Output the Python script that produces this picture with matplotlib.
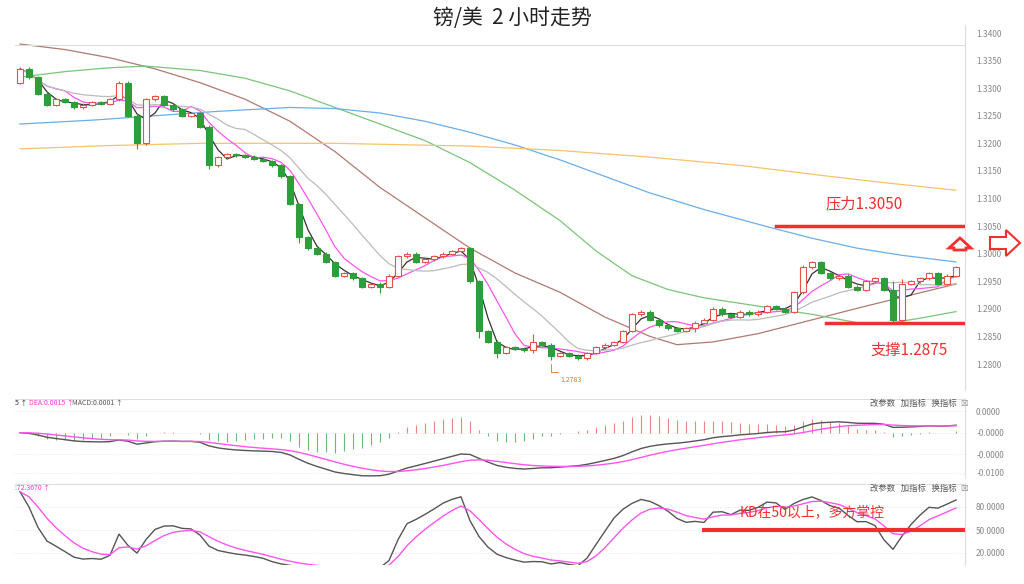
import matplotlib
matplotlib.use("Agg")
import matplotlib.pyplot as plt
import numpy as np
import pandas as pd
from matplotlib.patches import FancyArrow

plt.rcParams['font.family'] = ['Noto Sans CJK SC', 'DejaVu Sans']

closes = [1.3335,1.3320,1.3290,1.3270,1.3280,1.3275,1.3265,1.3270,1.3275,1.3272,
          1.3280,1.3310,1.3250,1.3200,1.3280,1.3285,1.3270,1.3262,1.3250,1.3255,
          1.3230,1.3160,1.3175,1.3180,1.3178,1.3176,1.3172,1.3168,1.3160,1.3140,
          1.3090,1.3030,1.3010,1.3000,1.2985,1.2960,1.2965,1.2955,1.2940,1.2945,
          1.2940,1.2960,1.2995,1.3000,1.2985,1.2990,1.2995,1.3000,1.3005,1.3010,
          1.2950,1.2860,1.2840,1.2820,1.2830,1.2828,1.2825,1.2840,1.2835,1.2815,
          1.2820,1.2815,1.2810,1.2820,1.2830,1.2835,1.2840,1.2860,1.2890,1.2895,
          1.2880,1.2870,1.2865,1.2860,1.2865,1.2875,1.2880,1.2900,1.2890,1.2885,
          1.2895,1.2890,1.2895,1.2905,1.2900,1.2895,1.2930,1.2975,1.2985,1.2965,
          1.2955,1.2960,1.2940,1.2935,1.2950,1.2955,1.2935,1.2880,1.2945,1.2950,
          1.2955,1.2965,1.2945,1.2960,1.2975]
first_open = 1.3310
long_wicks = {13: (8, 20), 21: (6, 14), 31: (5, 20), 40: (6, 22), 51: (6, 25),
              53: (6, 18), 57: (30, 10), 59: (6, 15), 75: (6, 14), 87: (10, 6),
              97: (30, 8), 98: (18, 6)}
brown_pts = [(0,1.3380),(5,1.3370),(10,1.3355),(15,1.3335),(20,1.3310),(25,1.3280),(30,1.3240),
             (35,1.3185),(40,1.3120),(45,1.3065),(50,1.3010),(55,1.2965),(60,1.2930),(65,1.2885),
             (70,1.2850),(73,1.2835),(77,1.2840),(82,1.2855),(88,1.2880),(94,1.2905),(99,1.2925),(104,1.2945)]
green_pts = [(0,1.3320),(5,1.3330),(10,1.3337),(14,1.3340),(20,1.3332),(25,1.3318),(30,1.3295),
             (35,1.3265),(40,1.3235),(45,1.3205),(50,1.3165),(55,1.3115),(60,1.3060),(64,1.3005),
             (68,1.2960),(72,1.2935),(76,1.2920),(82,1.2905),(88,1.2890),(93,1.2875),(97,1.2875),
             (100,1.2883),(104,1.2895)]
blue_pts = [(0,1.3235),(8,1.3242),(15,1.3250),(22,1.3258),(30,1.3265),(35,1.3263),(40,1.3255),
            (45,1.3240),(50,1.3220),(55,1.3197),(60,1.3170),(65,1.3140),(70,1.3110),(76,1.3080),
            (83,1.3049),(88,1.3028),(93,1.3010),(98,1.2997),(104,1.2985)]
orange_pts = [(0,1.3190),(10,1.3196),(20,1.3200),(35,1.3200),(50,1.3195),(60,1.3187),(70,1.3175),
              (80,1.3160),(90,1.3140),(97,1.3127),(104,1.3115)]
price_ticks = [1.2800,1.2850,1.2900,1.2950,1.3000,1.3050,1.3100,1.3150,1.3200,1.3250,1.3300,1.3350,1.3400]
resistance = 1.3050
support = 1.2875
macd_ticks = [0.004, 0.0, -0.004, -0.0075]
macd_labels = ["0.0000", "-0.0000", "-0.0000", "-0.0100"]
kd_ticks = [80, 50, 20]

W, H = 1024, 584
fig = plt.figure(figsize=(W/100, H/100), dpi=100)

def ax_px(x0, y0, x1, y1):
    return fig.add_axes([x0/W, 1-y1/H, (x1-x0)/W, (y1-y0)/H])

n = len(closes)
idx = np.arange(n)
c = np.array(closes)
o = np.array([first_open] + closes[:-1])
xl = (-5/9, 945/9)
pp = 0.06/331

def style(ax):
    ax.set_xlim(*xl)
    for s in ['left', 'top', 'bottom']:
        ax.spines[s].set_visible(False)
    ax.spines['right'].set_color('#dddddd')
    ax.yaxis.tick_right()
    ax.tick_params(axis='y', length=0, labelsize=6, labelcolor='#888888', pad=8)
    ax.set_xticks([])
    ax.grid(axis='y', color='#dddddd', linestyle=(0, (1, 2)), linewidth=0.6)

# main
ax = ax_px(15, 25, 965, 390)
style(ax)
ax.set_ylim(1.28 - 26*pp, 1.34 + 8*pp)
ax.set_yticks(price_ticks)
ax.set_yticklabels([f"{t:.4f}" for t in price_ticks])
ax.grid(False)
ax.axhline(1.34 + 8*pp - 20*pp, color='#dddddd', lw=0.8)
red, grn = '#e8504a', '#2e9e3a'
for i in idx:
    up, dn = long_wicks.get(i, (5, 5))
    hi = max(o[i], c[i]) + up*1e-4*0.5
    lo = min(o[i], c[i]) - dn*1e-4*0.5
    col = red if c[i] >= o[i] else grn
    ax.vlines(i, lo, hi, color=col, lw=0.8, zorder=3)
    bh = max(abs(c[i]-o[i]), 0.00008)
    ax.bar(i, bh, bottom=min(o[i], c[i]), width=0.6,
           facecolor=('white' if c[i] >= o[i] else grn), edgecolor=col, lw=0.8, zorder=4)
cs = pd.Series(c)
ax.plot(idx, cs.rolling(3, min_periods=1).mean(), color='#333333', lw=0.9, zorder=2)
ax.plot(idx, cs.rolling(6, min_periods=1).mean(), color='#ff55ee', lw=0.9, zorder=2)
ax.plot(idx, cs.rolling(12, min_periods=1).mean(), color='#bbbbbb', lw=0.9, zorder=2)
for pts, col in [(brown_pts, '#b07a70'), (green_pts, '#7cc47a'), (blue_pts, '#6aaee8'), (orange_pts, '#f5c46a')]:
    a = np.array(pts)
    ax.plot(a[:, 0], a[:, 1], color=col, lw=0.9, zorder=1)
ax.plot([84, xl[1]], [resistance]*2, color='#f03030', lw=2.5, zorder=5)
ax.plot([89.5, xl[1]], [support]*2, color='#f03030', lw=2.5, zorder=5)
ax.text(89.5, resistance + 22*pp, "压力1.3050", color='#f03030', fontsize=11, va='center')
ax.text(94.5, support - 28*pp, "支撑1.2875", color='#f03030', fontsize=11, va='center')
ax.text(60, 1.2783 - 3*pp, "1.2783", color='#e07020', fontsize=5, va='top')
ax.plot([59, 59, 59.8], [1.2800, 1.2786, 1.2786], color='#e07020', lw=0.6)

fig.patches.append(FancyArrow(960/W, 1-250/H, 0, 12/H, width=12/W, head_width=22/W, head_length=10/H,
                              length_includes_head=True, transform=fig.transFigure, facecolor='white',
                              edgecolor='#f03030', lw=2))
fig.patches.append(FancyArrow(990/W, 1-243/H, 30/W, 0, width=12/H, head_width=26/H, head_length=14/W,
                              length_includes_head=True, transform=fig.transFigure, facecolor='white',
                              edgecolor='#f03030', lw=1.5))

fig.text(0.5, 1-18/H, "镑/美  2 小时走势", ha='center', va='center', fontsize=15, color='#222222')

# MACD
ema12 = cs.ewm(span=12, adjust=False).mean()
ema26 = cs.ewm(span=26, adjust=False).mean()
dif = ema12 - ema26
dea = dif.ewm(span=9, adjust=False).mean()
hist = 2 * (dif - dea)
ax2 = ax_px(15, 398, 965, 478)
style(ax2)
ax2.set_ylim(-0.0085, 0.0065)
ax2.set_yticks(macd_ticks)
ax2.set_yticklabels(macd_labels)
ax2.vlines(idx, 0, hist, colors=[red if h >= 0 else grn for h in hist], lw=0.8, alpha=0.7)
ax2.plot(idx, dif, color='#555555', lw=1)
ax2.plot(idx, dea, color='#ff55ee', lw=1)
ax2.axhline(0.0064, color='#dddddd', lw=0.8)
fig.text(15/W, 1-403/H, "5 ↑", fontsize=5, color='#333333', va='center')
fig.text(29/W, 1-403/H, "DEA:0.0015 ↑", fontsize=5, color='#ff33cc', va='center')
fig.text(72/W, 1-403/H, "MACD:0.0001 ↑", fontsize=5, color='#555555', va='center')
for y in (403, 488):
    fig.text(870/W, 1-y/H, "改参数   加指标   换指标", fontsize=6, color='#555555', va='center')
    fig.text(960/W, 1-y/H, "☒", fontsize=6, color='#888888', va='center')

# KD
low9 = pd.Series(np.minimum(o, c)).rolling(9, min_periods=1).min()
high9 = pd.Series(np.maximum(o, c)).rolling(9, min_periods=1).max()
rsv = (cs - low9) / (high9 - low9 + 1e-9) * 100
k = rsv.ewm(alpha=1/3, adjust=False).mean()
d = k.ewm(alpha=1/3, adjust=False).mean()
ax3 = ax_px(15, 483, 965, 565)
style(ax3)
ax3.set_ylim(20 - 12*30/23, 80 + 24*30/23)
ax3.set_yticks(kd_ticks)
ax3.set_yticklabels(["80.0000", "50.0000", "20.0000"])
ax3.plot(idx, k, color='#555555', lw=1)
ax3.plot(idx, d, color='#ff55ee', lw=1)
ax3.plot([76, xl[1]], [50, 50], color='#f03030', lw=3)
ax3.text(80, 73, "KD在50以上，多方掌控", color='#f03030', fontsize=10, va='center')
ax3.axhline(80 + 23*30/23, color='#dddddd', lw=0.8)
fig.text(15/W, 1-488/H, ":72.3670 ↑", fontsize=5, color='#ff33cc', va='center')

fig.savefig("out.png", dpi=100, facecolor='white')
